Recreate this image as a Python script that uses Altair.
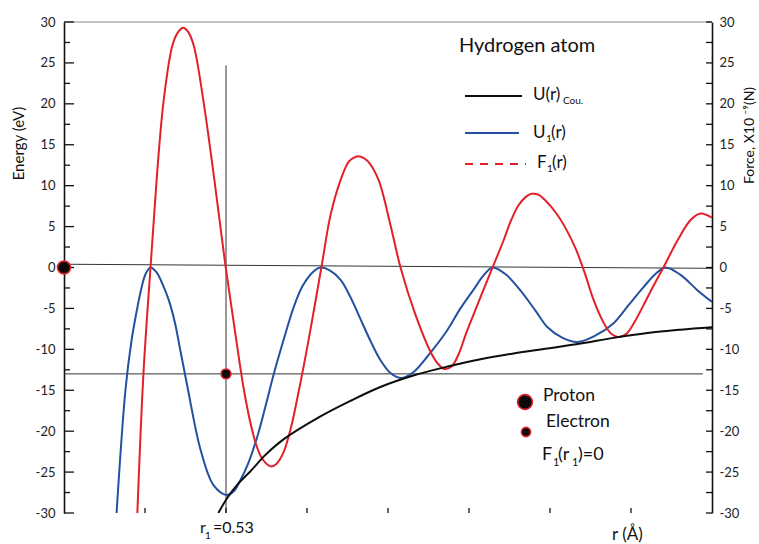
import altair as alt
import pandas as pd

# ---------------- values ----------------
r_cou = [0.505, 0.535, 0.568, 0.610, 0.659, 0.718, 0.829, 0.937, 1.035, 1.143,
         1.255, 1.363, 1.471, 1.582, 1.690, 1.798, 1.909, 2.017, 2.120]
u_cou = [-30.0, -28.1, -26.5, -24.9, -22.9, -21.0, -18.4, -16.3, -14.6, -13.2,
         -12.1, -11.2, -10.5, -9.9, -9.3, -8.6, -8.0, -7.6, -7.3]

r_u1 = [0.172, 0.201, 0.221, 0.240, 0.254, 0.267, 0.283, 0.303, 0.322, 0.342,
        0.362, 0.381, 0.404, 0.447, 0.489, 0.532, 0.554, 0.577, 0.604, 0.633,
        0.659, 0.685, 0.718, 0.751, 0.780, 0.813, 0.839, 0.872, 0.905, 0.937,
        0.970, 1.003, 1.035, 1.068, 1.101, 1.143, 1.199, 1.255, 1.297, 1.340,
        1.372, 1.402, 1.444, 1.493, 1.543, 1.582, 1.631, 1.680, 1.739, 1.798,
        1.847, 1.896, 1.935, 1.968, 2.017, 2.073, 2.120]
u1 = [-30.0, -15.0, -8.9, -4.9, -2.4, -0.8, 0.0, -0.6, -2.0, -3.9,
      -6.6, -10.2, -14.6, -22.3, -26.6, -27.8, -27.4, -26.0, -23.8, -20.6,
      -17.0, -13.2, -8.9, -4.9, -2.3, -0.6, 0.0, -0.4, -1.5, -3.6,
      -6.3, -9.0, -11.3, -12.9, -13.5, -12.8, -10.4, -7.6, -5.0, -2.7,
      -1.0, 0.0, -0.8, -2.8, -5.3, -7.3, -8.6, -9.1, -8.3, -6.8,
      -4.6, -2.4, -0.8, 0.0, -0.9, -2.8, -4.2]

r_f1 = [0.240, 0.260, 0.283, 0.303, 0.326, 0.355, 0.374, 0.390, 0.406, 0.424,
        0.456, 0.492, 0.528, 0.561, 0.587, 0.610, 0.630, 0.649, 0.676, 0.695,
        0.718, 0.741, 0.767, 0.800, 0.842, 0.872, 0.905, 0.931, 0.947, 0.963,
        0.980, 0.996, 1.029, 1.068, 1.101, 1.150, 1.199, 1.222, 1.245, 1.268,
        1.291, 1.317, 1.363, 1.402, 1.438, 1.461, 1.487, 1.510, 1.529, 1.552,
        1.572, 1.611, 1.644, 1.674, 1.703, 1.732, 1.762, 1.788, 1.814, 1.840,
        1.866, 1.896, 1.929, 1.961, 2.007, 2.050, 2.082, 2.120]
f1 = [-30.0, -12.9, 0.0, 10.7, 20.4, 27.2, 28.8, 29.3, 28.8, 27.2,
      20.4, 10.7, 0.3, -8.2, -14.6, -19.0, -21.8, -23.4, -24.3, -24.0,
      -22.6, -19.8, -15.3, -8.9, 0.0, 6.4, 10.7, 12.9, 13.4, 13.6,
      13.4, 12.9, 10.7, 5.2, 0.0, -5.8, -10.3, -11.7, -12.4, -12.1,
      -10.6, -7.9, -3.6, 0.0, 3.3, 5.6, 7.6, 8.6, 9.0, 8.9,
      8.3, 6.6, 4.6, 2.3, -0.6, -3.9, -6.5, -8.0, -8.5, -8.1,
      -6.7, -4.6, -2.2, 0.0, 3.3, 5.8, 6.6, 6.1]

y_major = [-30, -25, -20, -15, -10, -5, 0, 5, 10, 15, 20, 25, 30]
y_minor = [-27.5, -22.5, -17.5, -12.5, -7.5, -2.5, 2.5, 7.5, 12.5, 17.5, 22.5, 27.5]
x_ticks = [0.265, 0.53, 0.795, 1.06, 1.325, 1.59, 1.855]

x_min, x_max = 0.0, 2.12
r1 = 0.53            # Bohr radius marker
r1_top = 24.7        # top of the vertical r1 line
e_level = -13.0      # electron level line
e_level_end = 2.09
zero_left, zero_right = 0.4, -0.1

# ---------------- layout ----------------
W, H = 648, 491
PL, PT = 64, 22
FONT = "Lato"

xs = alt.Scale(domain=[x_min, x_max], nice=False, zero=False)
ys = alt.Scale(domain=[-30, 30], nice=False, zero=False)

one = pd.DataFrame({"k": [0]})


def X(px):
    return alt.value(px - PL)


def Y(py):
    return alt.value(py - PT)


def txt(s, px, py, size, color="#111"):
    return alt.Chart(one).mark_text(
        text=s, align="left", baseline="alphabetic", font=FONT, fontSize=size, color=color
    ).encode(x=X(px), y=Y(py))


curves = pd.concat([
    pd.DataFrame({"r": r_u1, "v": u1, "s": "U1"}),
    pd.DataFrame({"r": r_f1, "v": f1, "s": "F1"}),
    pd.DataFrame({"r": r_cou, "v": u_cou, "s": "Ucou"}),
], ignore_index=True)

# left axis layer (inward ticks) -> carries the left axis
left_major = alt.Chart(pd.DataFrame({"v": y_major})).mark_rule(color="#111", strokeWidth=1.3).encode(
    x=alt.value(0), x2=alt.value(10),
    y=alt.Y("v:Q", scale=ys, axis=alt.Axis(
        orient="left", values=y_major, ticks=False, grid=False,
        domain=True, domainColor="#111", domainWidth=1.6,
        labelFont=FONT, labelFontSize=13, labelColor="#222", labelPadding=9,
        labelExpr="'' + datum.value",
        title="Energy (eV)", titleFont=FONT, titleFontSize=15, titleFontWeight="normal",
        titleColor="#111", titleX=-46, titleY=121, titleAngle=270,
        titleAlign="center", titleBaseline="middle")),
)
left_minor = alt.Chart(pd.DataFrame({"v": y_minor})).mark_rule(color="#111", strokeWidth=1.3).encode(
    x=alt.value(0), x2=alt.value(6), y=alt.Y("v:Q", scale=ys, axis=None))

right_major = alt.Chart(pd.DataFrame({"v": y_major})).mark_rule(color="#111", strokeWidth=1.3).encode(
    x=alt.value(W - 6), x2=alt.value(W),
    y=alt.Y("v:Q", scale=ys, axis=alt.Axis(
        orient="right", values=y_major, ticks=False, grid=False,
        domain=True, domainColor="#111", domainWidth=1.6,
        labelFont=FONT, labelFontSize=13, labelColor="#222", labelPadding=7,
        labelExpr="'' + datum.value",
        title="Force,  X10 \u207b\u2079(N)", titleFont=FONT, titleFontSize=14,
        titleFontWeight="normal", titleColor="#111", titleX=37, titleY=113,
        titleAngle=270, titleAlign="center", titleBaseline="middle")),
)
right_minor = alt.Chart(pd.DataFrame({"v": y_minor})).mark_rule(color="#111", strokeWidth=1.3).encode(
    x=alt.value(W - 6), x2=alt.value(W), y=alt.Y("v:Q", scale=ys, axis=None))

bottom_ticks = alt.Chart(pd.DataFrame({"r": x_ticks})).mark_rule(color="#111", strokeWidth=1.3).encode(
    x=alt.X("r:Q", scale=xs, axis=alt.Axis(
        orient="bottom", labels=False, ticks=False, grid=False, title=None,
        domain=True, domainColor="#111", domainWidth=1.6)),
    y=alt.value(H), y2=alt.value(H - 5),
)

# reference lines
top_line = alt.Chart(pd.DataFrame({"a": [x_min], "b": [x_max], "v": [30]})).mark_rule(
    color="#8a8a8a", strokeWidth=1.2).encode(
    x=alt.X("a:Q", scale=xs, axis=None), x2="b:Q", y=alt.Y("v:Q", scale=ys, axis=None))
zero_line = alt.Chart(pd.DataFrame({"a": [x_min], "b": [x_max], "v": [zero_left], "w": [zero_right]})).mark_rule(
    color="#333", strokeWidth=1).encode(
    x=alt.X("a:Q", scale=xs, axis=None), x2="b:Q",
    y=alt.Y("v:Q", scale=ys, axis=None), y2="w:Q")
level_line = alt.Chart(pd.DataFrame({"a": [x_min], "b": [e_level_end], "v": [e_level]})).mark_rule(
    color="#333", strokeWidth=1).encode(
    x=alt.X("a:Q", scale=xs, axis=None), x2="b:Q", y=alt.Y("v:Q", scale=ys, axis=None))
r1_line = alt.Chart(pd.DataFrame({"r": [r1], "a": [-30], "b": [r1_top]})).mark_rule(
    color="#333", strokeWidth=1).encode(
    x=alt.X("r:Q", scale=xs, axis=None), y=alt.Y("a:Q", scale=ys, axis=None), y2="b:Q")

lines = alt.Chart(curves).mark_line(strokeWidth=2, clip=True, interpolate="catmull-rom").encode(
    x=alt.X("r:Q", scale=xs, axis=None),
    y=alt.Y("v:Q", scale=ys, axis=None),
    color=alt.Color("s:N", scale=alt.Scale(domain=["U1", "F1", "Ucou"],
                                           range=["#2450a0", "#e3202a", "#0d0d0d"]), legend=None),
    order=alt.Order("r:Q"),
)

particles = alt.Chart(pd.DataFrame({"r": [0.0, r1], "v": [0.0, e_level], "sz": [170, 95]})).mark_point(
    filled=True, fill="#0a0a0a", stroke="#e3202a", strokeWidth=1.6, opacity=1, shape="circle").encode(
    x=alt.X("r:Q", scale=xs, axis=None), y=alt.Y("v:Q", scale=ys, axis=None),
    size=alt.Size("sz:Q", scale=None, legend=None))

# legend (key) drawn by hand
leg_black = alt.Chart(one).mark_rule(color="#0d0d0d", strokeWidth=2).encode(x=X(465), x2=X(522), y=Y(96))
leg_blue = alt.Chart(one).mark_rule(color="#2450a0", strokeWidth=2).encode(x=X(465), x2=X(519), y=Y(133))
leg_red = alt.Chart(one).mark_rule(color="#e3202a", strokeWidth=2, strokeDash=[8, 7]).encode(
    x=X(465), x2=X(526), y=Y(164))
leg_proton = alt.Chart(one).mark_point(filled=True, fill="#0a0a0a", stroke="#e3202a", strokeWidth=1.6,
                                       opacity=1, size=220).encode(x=X(525), y=Y(402))
leg_electron = alt.Chart(one).mark_point(filled=True, fill="#0a0a0a", stroke="#e3202a", strokeWidth=1.6,
                                         opacity=1, size=85).encode(x=X(526), y=Y(432))

texts = [
    txt("Hydrogen atom", 459, 52, 20),
    txt("U(r)", 533, 100, 17),
    txt("Cou.", 563, 104, 10),
    txt("U", 533, 138, 17),
    txt("1", 546, 142, 10),
    txt("(r)", 551, 138, 17),
    txt("F", 537, 168, 17),
    txt("1", 547, 172, 10),
    txt("(r)", 552, 168, 17),
    txt("Proton", 543, 401, 17.5),
    txt("Electron", 546, 427, 17.5),
    txt("F", 542, 460, 18),
    txt("1", 553, 466, 11),
    txt("(r", 558, 460, 18),
    txt("1", 572, 466, 11),
    txt(")=0", 578, 460, 18),
    txt("r", 200, 533, 16),
    txt("1", 205, 539, 10),
    txt("=0.53", 213, 533, 16),
    txt("r (\u00c5)", 612, 540, 17),
]

chart = alt.layer(
    top_line, zero_line, level_line, r1_line,
    left_major, left_minor, right_major, right_minor, bottom_ticks,
    lines, particles,
    leg_black, leg_blue, leg_red, leg_proton, leg_electron,
    *texts,
).resolve_scale(y="independent").properties(
    width=W, height=H,
    padding={"left": PL, "top": PT, "right": 759 - PL - W, "bottom": 544 - PT - H},
    autosize=alt.AutoSizeParams(type="none"),
    background="white",
).configure_view(stroke=None)

chart.save("out.html", embed_options={"renderer": "svg", "actions": False})
